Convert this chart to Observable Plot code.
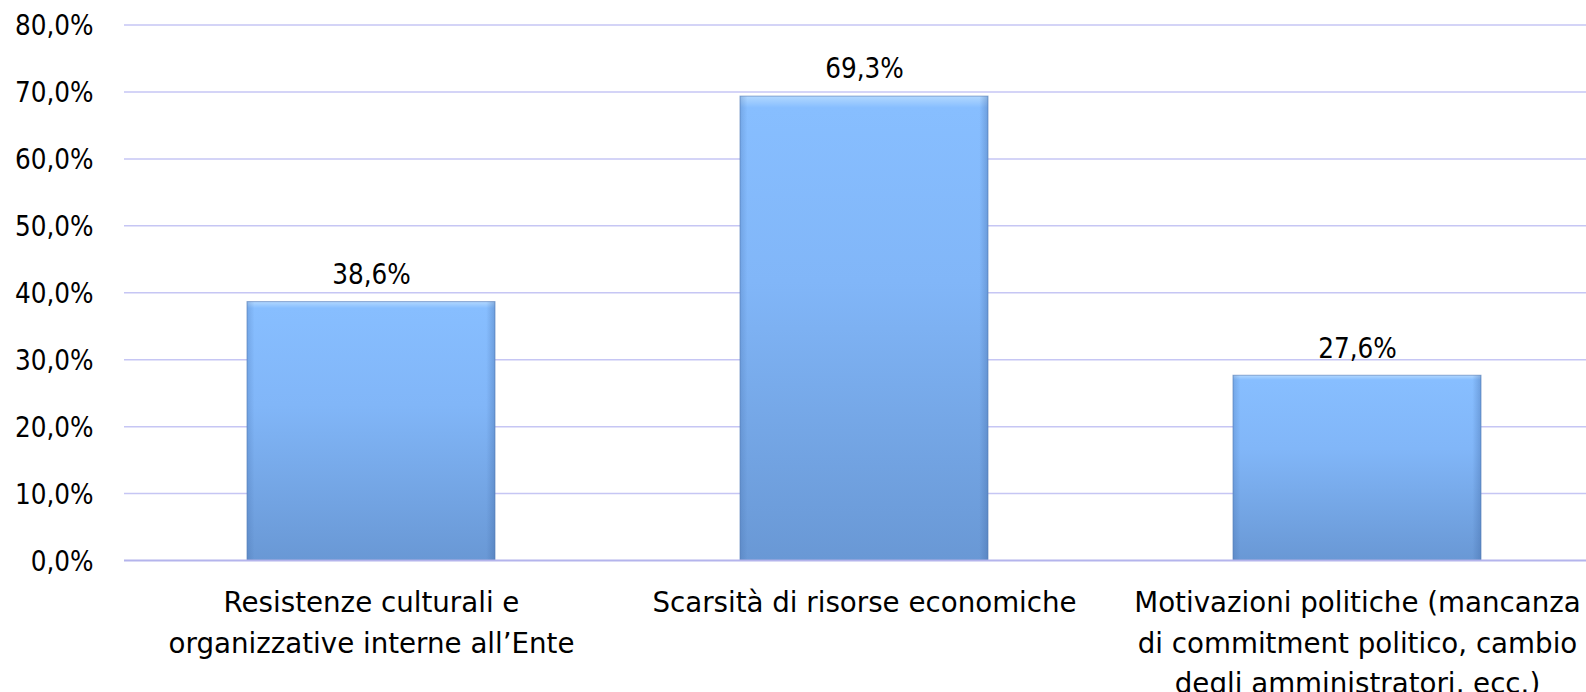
<!DOCTYPE html>
<html>
<head>
<meta charset="utf-8">
<script src="https://cdn.jsdelivr.net/npm/d3@7"></script>
<script src="https://cdn.jsdelivr.net/npm/@observablehq/plot@0.6"></script>
<style>
  html, body { margin: 0; padding: 0; background: #ffffff; overflow: hidden; }
  #chart { width: 1586px; height: 692px; overflow: hidden; }
  #chart svg { display: block; max-width: none !important; width: 1620px; height: 692px; }
</style>
</head>
<body>
<div id="chart"></div>
<script>
const categories = [
  "Resistenze culturali e organizzative interne all’Ente",
  "Scarsità di risorse economiche",
  "Motivazioni politiche (mancanza di commitment politico, cambio degli amministratori, ecc.)"
];
const categoryLabels = [
  "Resistenze culturali e\norganizzative interne all’Ente",
  "Scarsità di risorse economiche",
  "Motivazioni politiche (mancanza\ndi commitment politico, cambio\ndegli amministratori, ecc.)"
];
const values = [0.386, 0.693, 0.276];
const yTicks = [0, 0.1, 0.2, 0.3, 0.4, 0.5, 0.6, 0.7, 0.8];

const data = categories.map((c, i) => ({category: c, value: values[i]}));
const labelOf = new Map(categories.map((c, i) => [c, categoryLabels[i]]));
const pct = d => (d * 100).toFixed(1).replace(".", ",") + "%";

const FONT_C = "'DejaVu Sans Condensed', 'DejaVu Sans', sans-serif";
const FONT = "'DejaVu Sans', sans-serif";

const plot = Plot.plot({
  width: 1620,
  height: 692,
  marginLeft: 124,
  marginRight: 17,
  marginTop: 24.5,
  marginBottom: 132,
  style: {fontFamily: FONT_C, fontSize: "27px", color: "#000", background: "#fff", maxWidth: "none"},
  x: {domain: categories, paddingInner: 0.497, paddingOuter: 0.2485, align: 0.5},
  y: {domain: [0, 0.8]},
  marks: [
    Plot.ruleY(yTicks.slice(1), {stroke: "#c6c6f4", strokeWidth: 1.5}),
    Plot.axisY({
      ticks: yTicks, tickSize: 0, tickPadding: 31, tickFormat: pct,
      label: null, fontSize: 27.5, fill: "#000", dy: 1.5
    }),
    Plot.axisX({
      tickSize: 0, tickPadding: 22.5, label: null,
      tickFormat: d => labelOf.get(d), lineHeight: 1.47,
      fontSize: 27.7, fontFamily: FONT, fill: "#000"
    }),
    Plot.barY(data, {
      x: "category", y: "value",
      fill: "url(#barGrad)", stroke: "#5f86bd", strokeWidth: 1, strokeOpacity: 0.7
    }),
    Plot.barY(data, {
      x: "category", y: "value",
      fill: "url(#sideGrad)"
    }),
    Plot.ruleY([0], {stroke: "#b4b4ec", strokeWidth: 2}),
    Plot.text(data, {
      x: "category", y: "value", text: d => pct(d.value),
      dy: -27, fontSize: 27.5, fill: "#000"
    })
  ]
});

const svg = d3.select(plot);
const defs = svg.insert("defs", ":first-child");
const g = defs.append("linearGradient")
  .attr("id", "barGrad").attr("x1", 0).attr("y1", 0).attr("x2", 0).attr("y2", 1);
g.append("stop").attr("offset", "0%").attr("stop-color", "#b2d8ff");
g.append("stop").attr("offset", "2.5%").attr("stop-color", "#87beff");
g.append("stop").attr("offset", "40%").attr("stop-color", "#81b6f8");
g.append("stop").attr("offset", "100%").attr("stop-color", "#6998d5");
const s = defs.append("linearGradient")
  .attr("id", "sideGrad").attr("x1", 0).attr("y1", 0).attr("x2", 1).attr("y2", 0);
s.append("stop").attr("offset", "0%").attr("stop-color", "#3c64a0").attr("stop-opacity", 0.25);
s.append("stop").attr("offset", "3%").attr("stop-color", "#3c64a0").attr("stop-opacity", 0);
s.append("stop").attr("offset", "96.5%").attr("stop-color", "#3c64a0").attr("stop-opacity", 0);
s.append("stop").attr("offset", "100%").attr("stop-color", "#3c64a0").attr("stop-opacity", 0.35);

document.getElementById("chart").appendChild(plot);
</script>
</body>
</html>
